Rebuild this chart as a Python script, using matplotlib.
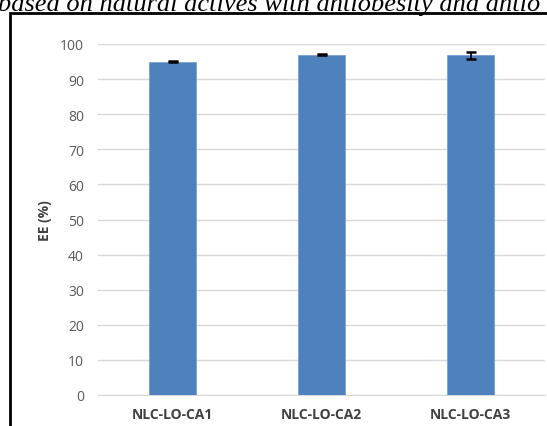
import matplotlib.pyplot as plt
from matplotlib.patches import Rectangle

# data
samples = ['NLC-LO-CA1', 'NLC-LO-CA2', 'NLC-LO-CA3']
ee = [95.0, 97.0, 96.8]
ee_err = [0.2, 0.2, 1.0]
yticks = [0, 10, 20, 30, 40, 50, 60, 70, 80, 90, 100]

plt.rcParams['font.family'] = ['Open Sans', 'DejaVu Sans']

fig = plt.figure(figsize=(5.47, 4.27), dpi=100)

# page caption cut off at top
fig.text(-0.004, 1 - 11.5 / 427, 'based on natural actives with antiobesity and antio',
         family='Liberation Serif', style='italic', fontsize=19, va='baseline',
         ha='left', color='black')

# chart border (only left and top visible)
fig.patches.append(Rectangle((10 / 547, -0.1), 1.2, 1 - 14 / 427 + 0.1,
                             transform=fig.transFigure, fill=False,
                             edgecolor='black', linewidth=2))

ax = fig.add_axes([98 / 547, 31 / 427, 447 / 547, 351 / 427])
x = range(len(samples))
ax.bar(x, ee, width=0.315, color='#4f81bd', edgecolor='#7aa0d4', linewidth=0.6,
       zorder=3)
ax.errorbar(x, ee, yerr=ee_err, fmt='none', ecolor='black', elinewidth=1.2,
            capsize=3.5, capthick=1.8, zorder=4)

ax.set_xlim(-0.5, 2.5)
ax.set_ylim(0, 100)
ax.set_yticks(yticks)
ax.yaxis.grid(True, color='#d9d9d9', linewidth=1)
ax.set_axisbelow(True)
for s in ['top', 'right', 'left']:
    ax.spines[s].set_visible(False)
ax.spines['bottom'].set_color('#d9d9d9')
ax.tick_params(axis='y', length=0, pad=10, labelsize=10, labelcolor='#595959')
ax.tick_params(axis='x', length=0, pad=9, labelsize=10, labelcolor='#404040')
ax.set_xticks(list(x))
ax.set_xticklabels(samples, fontweight='bold')
ax.set_ylabel('EE (%)', fontweight='bold', fontsize=10, color='#404040', labelpad=6)

fig.savefig('out.png', dpi=100)
